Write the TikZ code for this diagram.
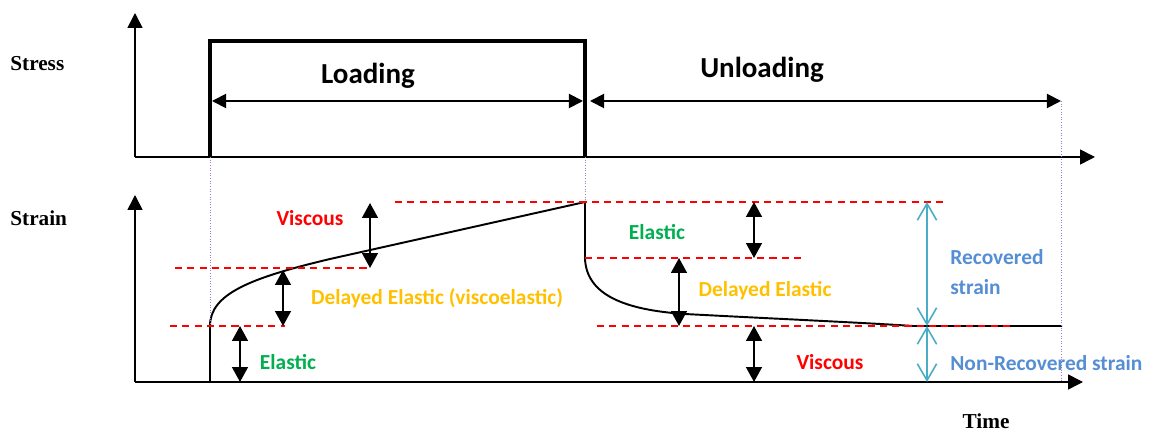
\documentclass[tikz,border=0pt]{standalone}
\usepackage{fontspec}
\setmainfont{Liberation Serif}
\newfontfamily\calibri{Carlito}
\usepackage{xcolor}
\usepackage{tikz}
\usetikzlibrary{arrows.meta,positioning,calc}
\definecolor{levelred}{RGB}{255,0,0}
\definecolor{elasticgreen}{RGB}{0,176,80}
\definecolor{delayorange}{RGB}{255,192,0}
\definecolor{recblue}{RGB}{85,142,213}
\definecolor{reccyan}{RGB}{75,172,198}
\definecolor{guidepurple}{RGB}{160,120,215}

\begin{document}
\begin{tikzpicture}[
    x=0.02cm, y=-0.02cm,
    axis/.style={-{Triangle[length=8.5pt,width=8.5pt]}, line width=0.9pt},
    pulse/.style={line width=2.3pt, line join=miter},
    span/.style={{Triangle[length=8pt,width=8pt]}-{Triangle[length=8pt,width=8pt]}, line width=1.1pt},
    part/.style={{Triangle[length=8.5pt,width=9pt]}-{Triangle[length=8.5pt,width=9pt]}, line width=1.1pt},
    total/.style={{Straight Barb[length=9.5pt,width=11pt]}-{Straight Barb[length=9.5pt,width=11pt]}, draw=reccyan, line width=0.9pt},
    level/.style={levelred, dash pattern=on 4pt off 3pt, line width=1.1pt},
    guide/.style={guidepurple, densely dotted, line width=0.5pt},
    curve/.style={line width=1.1pt},
    axislabel/.style={font=\fontsize{12.1}{14}\selectfont\bfseries, inner sep=0pt, anchor=west},
    phase/.style={font=\calibri\fontsize{16.5}{19}\selectfont\bfseries},
    comp/.style={font=\calibri\fontsize{12.2}{17}\selectfont\bfseries}
]
    \useasboundingbox (0,0) rectangle (1150,431);

    % Stress axes
    \coordinate (so) at (135,157);
    \coordinate (sy) at (135,13);
    \coordinate (sx) at (1095,157);
    \draw[axis] (so) -- (sy);
    \draw[axis] (so) -- (sx);
    \node[axislabel] (stress) at (10,64) {Stress};

    % Stress pulse
    \coordinate (on) at (210,157);
    \coordinate (off) at (585,157);
    \coordinate (end) at (1061,101);
    \draw[pulse] (on) |- (585,41) -- (off);

    % Loading / unloading spans
    \coordinate (l1) at (212,101);
    \coordinate (l2) at (583,101);
    \coordinate (u1) at (590,101);
    \draw[span] (l1) -- (l2);
    \draw[span] (u1) -- (end);
    \node[phase] (loading) at (368,76) {Loading};
    \node[phase] (unloading) at (762,70) {Unloading};

    % Strain axes
    \coordinate (eo) at (135,382);
    \coordinate (ey) at (135,195);
    \coordinate (ex) at (1083,382);
    \draw[axis] (eo) -- (ey);
    \draw[axis] (eo) -- (ex);
    \node[axislabel] (strain) at (10,218) {Strain};
    \node[axislabel, anchor=center] (time) at (986,421) {Time};

    % Strain response
    \coordinate (e0) at (210,382);
    \coordinate (e1) at (210,326);
    \coordinate (e2) at (330,259);
    \coordinate (peak) at (585,202);
    \coordinate (drop) at (585,258);
    \coordinate (e3) at (685,314);
    \coordinate (rest) at (913,326);
    \coordinate (e4) at (1062,326);
    \draw[curve] (e0) -- (e1) .. controls (210,294) and (250,278) .. (e2) -- (peak)
        -- (drop) .. controls (586,295) and (625,310) .. (e3)
        .. controls (760,318) and (870,323) .. (rest) -- (e4);

    % Guide lines
    \coordinate (g1) at (1061,382);
    \draw[guide] (on) -- (e1);
    \draw[guide] (off) -- (peak);
    \draw[guide] (end) -- (g1);

    % Strain levels
    \draw[level] (175,268) -- (370,268);
    \draw[level] (170,326) -- (285,326);
    \draw[level] (395,202) -- (945,202);
    \draw[level] (drop) -- (804,258);
    \draw[level] (597,326) -- (1010,326);

    % Loading components
    \draw[part] (240,326) -- (240,382);
    \draw[part] (283,270) -- (283,326);
    \draw[part] (370,203) -- (370,268);
    \node[comp, elasticgreen] (el1) at (288,362) {Elastic};
    \node[comp, delayorange] (de1) at (437,298) {Delayed Elastic (viscoelastic)};
    \node[comp, levelred] (vi1) at (310,218) {Viscous};

    % Unloading components
    \draw[part] (754,202) -- (754,258);
    \draw[part] (679,258) -- (679,326);
    \draw[part] (754,326) -- (754,382);
    \node[comp, elasticgreen] (el2) at (657,232) {Elastic};
    \node[comp, delayorange] (de2) at (765,291) {Delayed Elastic};
    \node[comp, levelred] (vi2) at (830,362) {Viscous};

    % Recovered vs. permanent
    \coordinate (r1) at (927,202);
    \coordinate (r2) at (927,326);
    \coordinate (r3) at (927,382);
    \draw[total] (r1) -- (r2);
    \draw[total] (r2) -- (r3);
    \node[comp, recblue, align=left, anchor=west, inner sep=0pt] (rec) at (950,272) {Recovered\\strain};
    \node[comp, recblue, anchor=west, inner sep=0pt] (nonrec) at (950,363) {Non-Recovered strain};
\end{tikzpicture}
\end{document}
